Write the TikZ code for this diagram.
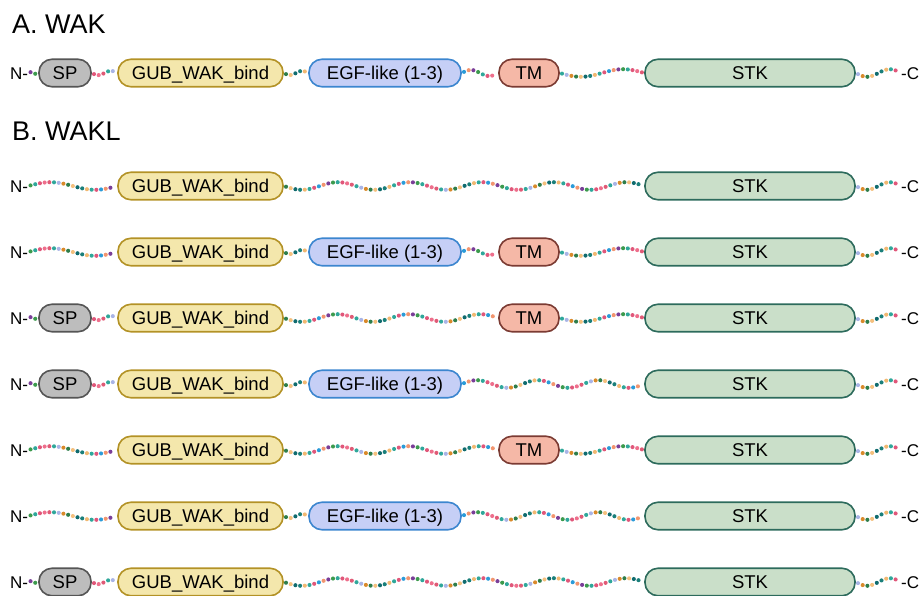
\documentclass[tikz,border=0pt]{standalone}
\usepackage{fontspec}
\setmainfont{Liberation Sans}
\usetikzlibrary{decorations.markings}

\definecolor{spfill}{HTML}{BDBDBD}
\definecolor{spline}{HTML}{555555}
\definecolor{gubfill}{HTML}{F4E7AC}
\definecolor{gubline}{HTML}{B39226}
\definecolor{egffill}{HTML}{C6CFF6}
\definecolor{egfline}{HTML}{3C86CF}
\definecolor{tmfill}{HTML}{F5B8A7}
\definecolor{tmline}{HTML}{7B3B33}
\definecolor{stkfill}{HTML}{CADFC9}
\definecolor{stkline}{HTML}{2D6B5C}

% bead colours, in the order they come along the chain
\definecolor{bd0}{HTML}{D98A2B}
\definecolor{bd1}{HTML}{2E7D4A}
\definecolor{bd2}{HTML}{F4C07E}
\definecolor{bd3}{HTML}{106B6E}
\definecolor{bd4}{HTML}{1A7F7A}
\definecolor{bd5}{HTML}{F1B872}
\definecolor{bd6}{HTML}{2FA79A}
\definecolor{bd7}{HTML}{E0577A}
\definecolor{bd8}{HTML}{2B9BD8}
\definecolor{bd9}{HTML}{F2956F}
\definecolor{bd10}{HTML}{7A3E98}
\definecolor{bd11}{HTML}{3C9A4D}
\definecolor{bd12}{HTML}{2FA79A}
\definecolor{bd13}{HTML}{E0577A}
\definecolor{bd14}{HTML}{EE6F8C}
\definecolor{bd15}{HTML}{E05A76}
\definecolor{bd16}{HTML}{2FA79A}
\definecolor{bd17}{HTML}{A9B4E6}

% one bead of a wavy chain: #1 colour offset, #2 wave sign
\newcommand{\beadat}[2]{%
  \pgfmathsetmacro\bdist{\pgfkeysvalueof{/pgf/decoration/mark info/distance from start}}%
  \pgfmathsetmacro\blen{\pgfdecoratedpathlength}%
  \pgfmathsetmacro\bfrac{\bdist/\blen}%
  \pgfmathtruncatemacro\bwaves{max(1,round(\blen/72))}%
  \pgfmathsetmacro\bamp{#2*min(3.8,\blen/12)}%
  \pgfmathsetmacro\bdy{\bamp*sin(360*\bwaves*\bfrac)}%
  \pgfmathtruncatemacro\bcol{mod(\pgfkeysvalueof{/pgf/decoration/mark info/sequence number}+#1,18)}%
  \fill[fill=bd\bcol] (0,\bdy) circle (2.05pt);%
}

\begin{document}
\begin{tikzpicture}[x=1pt, y=-1pt,
  dom/.style={draw, line width=1.6pt, rounded corners=13pt, minimum height=27.5pt, inner sep=0pt, text height=13pt, text depth=0pt, font=\fontsize{18.5}{18.5}\selectfont},
  sp/.style={dom, fill=spfill, draw=spline, minimum width=52pt},
  gub/.style={dom, fill=gubfill, draw=gubline, minimum width=165pt},
  egf/.style={dom, fill=egffill, draw=egfline, minimum width=152pt},
  tm/.style={dom, fill=tmfill, draw=tmline, minimum width=60pt},
  stk/.style={dom, fill=stkfill, draw=stkline, minimum width=210pt},
  term/.style={inner sep=0pt, anchor=west, text height=12pt, text depth=0pt, font=\fontsize{17}{17}\selectfont},
  title/.style={inner sep=0pt, anchor=base west, font=\fontsize{27}{27}\selectfont},
  beads/.style 2 args={decoration={markings, mark=between positions 2.2pt and -2.2pt step 4.7pt with {\beadat{#1}{#2}}}, decorate}
]
\useasboundingbox (0,0) rectangle (921,595);

\node[title] (ta) at (12,33) {A. WAK};
\node[title] (tb) at (12,140) {B. WAKL};

% A. WAK
\node[term] (na) at (10,73) {N-};
\node[sp] (spa) at (65,73) {SP};
\node[gub] (guba) at (200.5,73) {GUB\_WAK\_bind};
\node[egf] (egfa) at (385,73) {EGF-like (1-3)};
\node[tm] (tma) at (529,73) {TM};
\node[stk] (stka) at (750,73) {STK};
\node[term] (ca) at (901,73) {-C};
\path[beads={9}{-1}] (na.east) -- (spa.west);
\path[beads={12}{1}] (spa.east) -- (guba.west);
\path[beads={0}{1}] (guba.east) -- (egfa.west);
\path[beads={7}{-1}] (egfa.east) -- (tma.west);
\path[beads={15}{1}] (tma.east) -- (stka.west);
\path[beads={16}{1}] (stka.east) -- (ca.west);

% B.1
\node[term] (n1) at (10,186) {N-};
\node[gub] (gub1) at (200.5,186) {GUB\_WAK\_bind};
\node[stk] (stk1) at (750,186) {STK};
\node[term] (c1) at (901,186) {-C};
\path[beads={10}{-1}] (n1.east) -- (gub1.west);
\path[beads={0}{1}] (gub1.east) -- (stk1.west);
\path[beads={16}{1}] (stk1.east) -- (c1.west);

% B.2
\node[term] (n2) at (10,252) {N-};
\node[gub] (gub2) at (200.5,252) {GUB\_WAK\_bind};
\node[egf] (egf2) at (385,252) {EGF-like (1-3)};
\node[tm] (tm2) at (529,252) {TM};
\node[stk] (stk2) at (750,252) {STK};
\node[term] (c2) at (901,252) {-C};
\path[beads={10}{-1}] (n2.east) -- (gub2.west);
\path[beads={0}{1}] (gub2.east) -- (egf2.west);
\path[beads={7}{-1}] (egf2.east) -- (tm2.west);
\path[beads={15}{1}] (tm2.east) -- (stk2.west);
\path[beads={16}{1}] (stk2.east) -- (c2.west);

% B.3
\node[term] (n3) at (10,318) {N-};
\node[sp] (sp3) at (65,318) {SP};
\node[gub] (gub3) at (200.5,318) {GUB\_WAK\_bind};
\node[tm] (tm3) at (529,318) {TM};
\node[stk] (stk3) at (750,318) {STK};
\node[term] (c3) at (901,318) {-C};
\path[beads={9}{-1}] (n3.east) -- (sp3.west);
\path[beads={12}{1}] (sp3.east) -- (gub3.west);
\path[beads={0}{1}] (gub3.east) -- (tm3.west);
\path[beads={15}{1}] (tm3.east) -- (stk3.west);
\path[beads={16}{1}] (stk3.east) -- (c3.west);

% B.4
\node[term] (n4) at (10,384) {N-};
\node[sp] (sp4) at (65,384) {SP};
\node[gub] (gub4) at (200.5,384) {GUB\_WAK\_bind};
\node[egf] (egf4) at (385,384) {EGF-like (1-3)};
\node[stk] (stk4) at (750,384) {STK};
\node[term] (c4) at (901,384) {-C};
\path[beads={9}{-1}] (n4.east) -- (sp4.west);
\path[beads={12}{1}] (sp4.east) -- (gub4.west);
\path[beads={0}{1}] (gub4.east) -- (egf4.west);
\path[beads={7}{-1}] (egf4.east) -- (stk4.west);
\path[beads={16}{1}] (stk4.east) -- (c4.west);

% B.5
\node[term] (n5) at (10,450) {N-};
\node[gub] (gub5) at (200.5,450) {GUB\_WAK\_bind};
\node[tm] (tm5) at (529,450) {TM};
\node[stk] (stk5) at (750,450) {STK};
\node[term] (c5) at (901,450) {-C};
\path[beads={10}{-1}] (n5.east) -- (gub5.west);
\path[beads={0}{1}] (gub5.east) -- (tm5.west);
\path[beads={15}{1}] (tm5.east) -- (stk5.west);
\path[beads={16}{1}] (stk5.east) -- (c5.west);

% B.6
\node[term] (n6) at (10,516) {N-};
\node[gub] (gub6) at (200.5,516) {GUB\_WAK\_bind};
\node[egf] (egf6) at (385,516) {EGF-like (1-3)};
\node[stk] (stk6) at (750,516) {STK};
\node[term] (c6) at (901,516) {-C};
\path[beads={10}{-1}] (n6.east) -- (gub6.west);
\path[beads={0}{1}] (gub6.east) -- (egf6.west);
\path[beads={7}{-1}] (egf6.east) -- (stk6.west);
\path[beads={16}{1}] (stk6.east) -- (c6.west);

% B.7
\node[term] (n7) at (10,582) {N-};
\node[sp] (sp7) at (65,582) {SP};
\node[gub] (gub7) at (200.5,582) {GUB\_WAK\_bind};
\node[stk] (stk7) at (750,582) {STK};
\node[term] (c7) at (901,582) {-C};
\path[beads={9}{-1}] (n7.east) -- (sp7.west);
\path[beads={12}{1}] (sp7.east) -- (gub7.west);
\path[beads={0}{1}] (gub7.east) -- (stk7.west);
\path[beads={16}{1}] (stk7.east) -- (c7.west);

\end{tikzpicture}
\end{document}
